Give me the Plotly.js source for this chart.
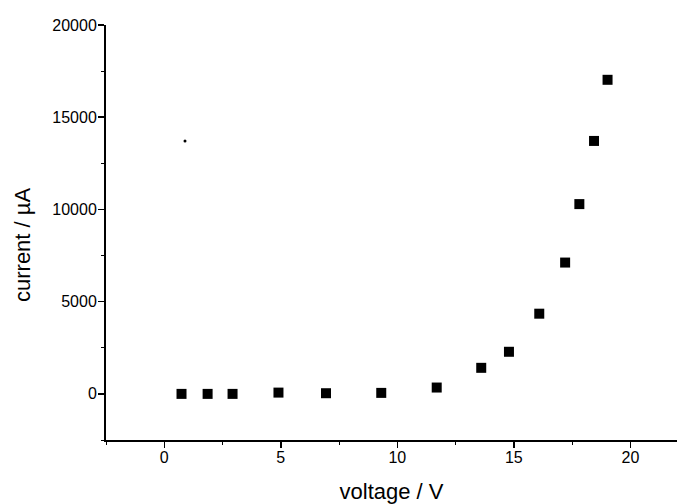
<!DOCTYPE html>
<html>
<head>
<meta charset="utf-8">
<script src="https://cdn.plot.ly/plotly-3.0.1.min.js"></script>
<style>html,body{margin:0;padding:0;background:#fff;}#chart{width:679px;height:504px;}</style>
</head>
<body>
<div id="chart"></div>
<script>
// Measured I–V points (voltage in V, current in µA)
const voltage = [0.74, 1.86, 2.93, 4.90, 6.94, 9.31, 11.69, 13.60, 14.79, 16.09, 17.20, 17.81, 18.44, 19.02];
const current = [0, 0, 0, 70, 36, 54, 344, 1413, 2283, 4348, 7120, 10290, 13714, 17029];
// Stray dot visible in the upper-left of the figure
const strayVoltage = [0.89];
const strayCurrent = [13714];

const xTickVals = [0, 5, 10, 15, 20];
const yTickVals = [0, 5000, 10000, 15000, 20000];

const tickFont = {family: 'Liberation Sans, Arial, sans-serif', size: 16, color: '#000'};
const titleFont = {family: 'Liberation Sans, Arial, sans-serif', size: 22, color: '#000'};

const traces = [
  {x: voltage, y: current, type: 'scatter', mode: 'markers',
   marker: {symbol: 'square', size: 10, color: '#000'}, showlegend: false},
  {x: strayVoltage, y: strayCurrent, type: 'scatter', mode: 'markers',
   marker: {symbol: 'circle', size: 3, color: '#000'}, showlegend: false}
];

const layout = {
  width: 679, height: 504,
  margin: {l: 106, r: 2, t: 25, b: 64},
  paper_bgcolor: '#fff', plot_bgcolor: '#fff',
  showlegend: false,
  xaxis: {
    range: [-2.5, 22], showgrid: false, zeroline: false,
    showline: true, linecolor: '#000', linewidth: 2,
    tickmode: 'array', tickvals: xTickVals, ticktext: xTickVals.map(String),
    ticks: 'outside', ticklen: 6, tickwidth: 1.5, tickcolor: '#000',
    ticklabelstandoff: -4,
    minor: {ticks: 'outside', ticklen: 3, tickwidth: 1, tickcolor: '#000', dtick: 2.5, tick0: 0, showgrid: false},
    tickfont: tickFont,
    title: {text: 'voltage / V', font: titleFont, standoff: 18}
  },
  yaxis: {
    range: [-2500, 20000], showgrid: false, zeroline: false,
    showline: true, linecolor: '#000', linewidth: 2,
    tickmode: 'array', tickvals: yTickVals, ticktext: yTickVals.map(String),
    ticks: 'outside', ticklen: 6, tickwidth: 1.5, tickcolor: '#000',
    ticklabelstandoff: -2,
    minor: {ticks: 'outside', ticklen: 3, tickwidth: 1, tickcolor: '#000', dtick: 2500, tick0: 0, showgrid: false},
    tickfont: tickFont
  },
  annotations: [{
    text: 'current / µA', font: titleFont, textangle: -90,
    xref: 'paper', yref: 'paper',
    x: (23 - 106) / 571, y: (440 - 245) / 415,
    xanchor: 'center', yanchor: 'middle', showarrow: false
  }]
};

Plotly.newPlot('chart', traces, layout, {displayModeBar: false, staticPlot: true});
</script>
</body>
</html>
